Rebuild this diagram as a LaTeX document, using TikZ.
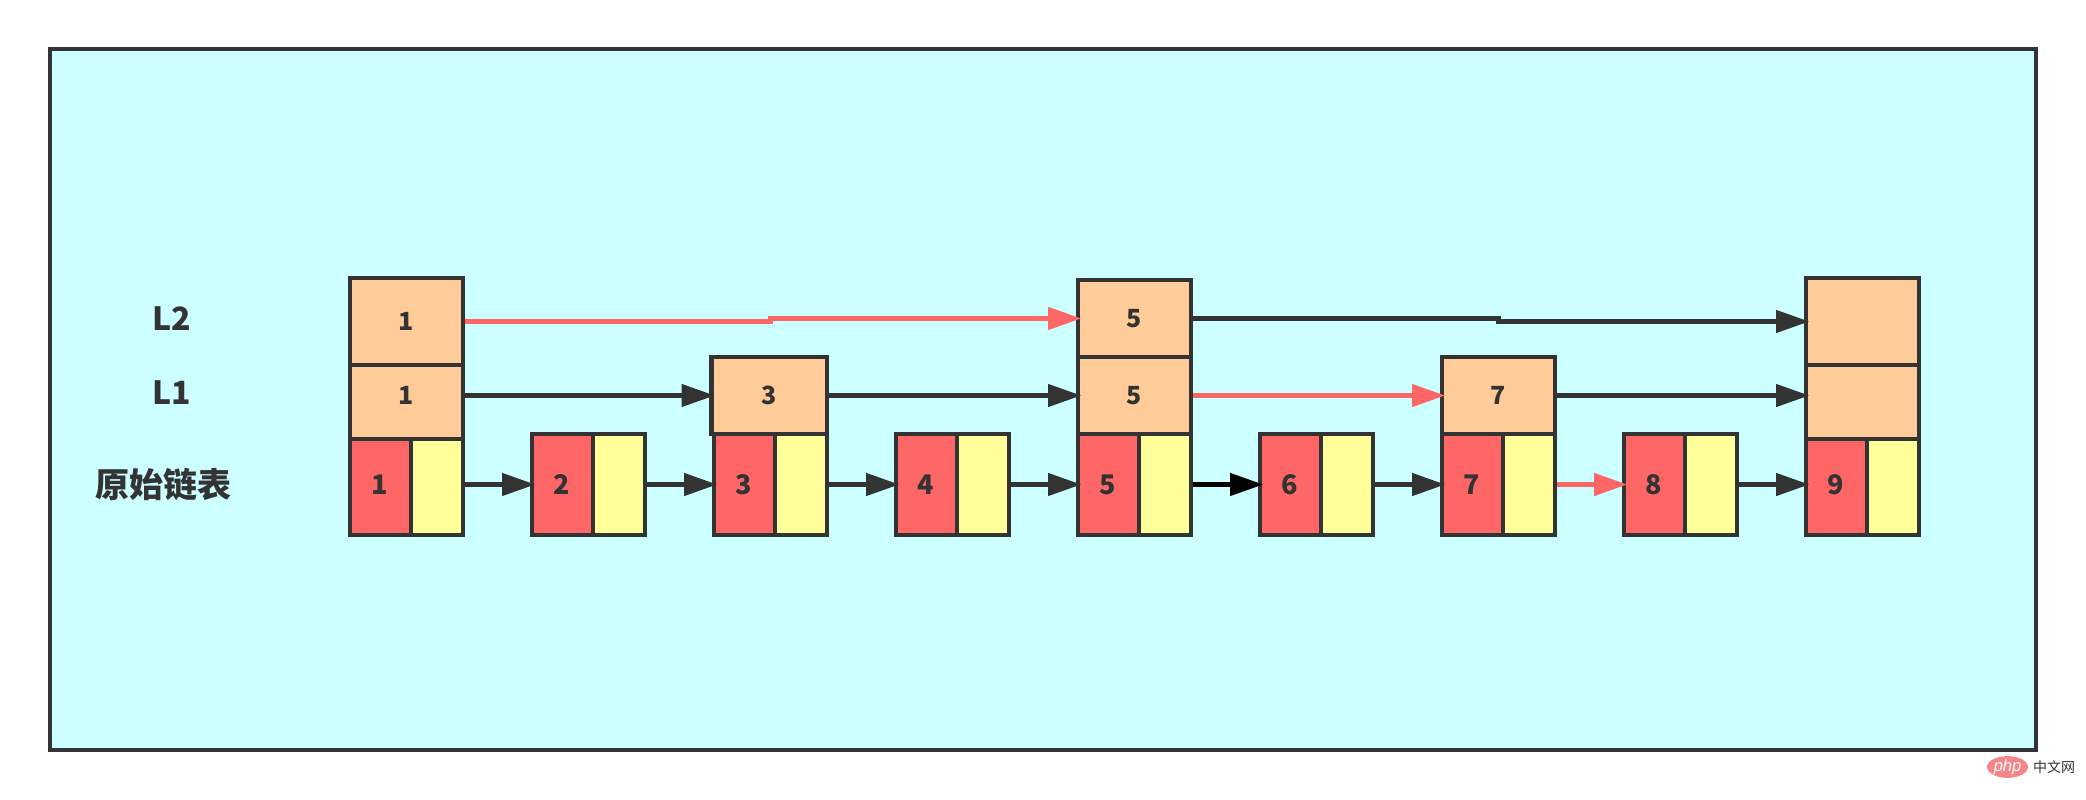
\documentclass[tikz,border=0pt]{standalone}
\usepackage{fontspec}
\setmainfont{Liberation Sans}
\newfontfamily\cjk{Noto Sans CJK SC}
\usetikzlibrary{arrows.meta,calc,shapes.geometric}
\definecolor{bgc}{HTML}{CCFFFF}
\definecolor{ink}{HTML}{333333}
\definecolor{redc}{HTML}{FF6666}
\definecolor{yelc}{HTML}{FFFF99}
\definecolor{orac}{HTML}{FFCC99}
\definecolor{phpc}{HTML}{F58586}
\newcommand\dg[1]{\hspace*{-1.4pt}#1}
\tikzset{
  cell/.style={draw=ink,line width=4.6pt,inner sep=0pt,text=ink,font=\cjk\bfseries\fontsize{25}{25}\selectfont},
  redcell/.style={cell,fill=redc,minimum width=61pt,minimum height=101pt,font=\cjk\bfseries\fontsize{27}{27}\selectfont},
  yelcell/.style={cell,fill=yelc,minimum width=52pt,minimum height=101pt},
  oracell/.style={cell,fill=orac},
  label/.style={text=ink,inner sep=0pt,font=\cjk\bfseries\fontsize{32}{32}\selectfont},
  link/.style={draw=ink,line width=4.2pt,shorten >=-5.5pt,-{Triangle[length=33pt,width=22pt]}},
  redlink/.style={link,draw=redc,-{Triangle[length=33pt,width=22pt,fill=redc]}},
  blacklink/.style={link,draw=black},
  steplink/.style={to path={-| ($(\tikztostart)!0.5!(\tikztotarget)$) |- (\tikztotarget)}}
}
\begin{document}
\begin{tikzpicture}[x=1pt,y=-1pt]
\useasboundingbox (0,0) rectangle (2086,800);
\node[draw=ink,fill=bgc,line width=4.6pt,inner sep=0pt,minimum width=1986pt,minimum height=701pt] (frame) at (1043,399.5) {};

% original list
\foreach \i in {1,...,9}{
  \pgfmathsetmacro\lx{350+182*(\i-1)}
  \node[redcell] (r\i) at (\lx+30.5,484.5) {\dg{\i}};
  \node[yelcell] (y\i) at (\lx+87,484.5) {};
}

% L1 and L2 index cells
\node[oracell,minimum width=113pt,minimum height=87pt] (a1) at (406.5,395.5) {\dg{1}};
\node[oracell,minimum width=115.5pt,minimum height=77pt] (a3) at (769.25,395.5) {3};
\node[oracell,minimum width=113pt,minimum height=77pt] (a5) at (1134.5,395.5) {\dg{5}};
\node[oracell,minimum width=113pt,minimum height=77pt] (a7) at (1498.5,395.5) {\dg{7}};
\node[oracell,minimum width=113pt,minimum height=87pt] (a9) at (1862.5,395.5) {};
\node[oracell,minimum width=113pt,minimum height=87pt] (b1) at (406.5,321.5) {\dg{1}};
\node[oracell,minimum width=113pt,minimum height=77pt] (b5) at (1134.5,318.5) {\dg{5}};
\node[oracell,minimum width=113pt,minimum height=87pt] (b9) at (1862.5,321.5) {};

% labels
\node[label] (t2) at (171.5,319) {L2};
\node[label] (t1) at (171.5,392.5) {L1};
\node[label,font=\cjk\bfseries\fontsize{34}{34}\selectfont] (t0) at (163,485) {原始链表};

% list links
\foreach \i/\j in {1/2,2/3,3/4,4/5,6/7,8/9}{
  \draw[link] (y\i) -- (r\j);
}
\draw[blacklink] (y5) -- (r6);
\draw[redlink] (y7) -- (r8);

% L1 links
\draw[link] (a1) -- (a3);
\draw[link] (a3) -- (a5);
\draw[redlink] (a5) -- (a7);
\draw[link] (a7) -- (a9);

% L2 links
\draw[redlink] (b1.east) to[steplink] (b5.west);
\draw[link] (b5.east) to[steplink] (b9.west);

% watermark
\node[ellipse,fill=phpc,minimum width=41pt,minimum height=21pt,inner sep=0pt,text=white,font=\itshape\fontsize{16.5}{16.5}\selectfont] (php) at (2007.5,767) {php};
\node[inner sep=0pt,text=ink,font=\cjk\fontsize{14}{14}\selectfont,anchor=west] (cn) at (2033,767) {中文网};
\end{tikzpicture}
\end{document}
